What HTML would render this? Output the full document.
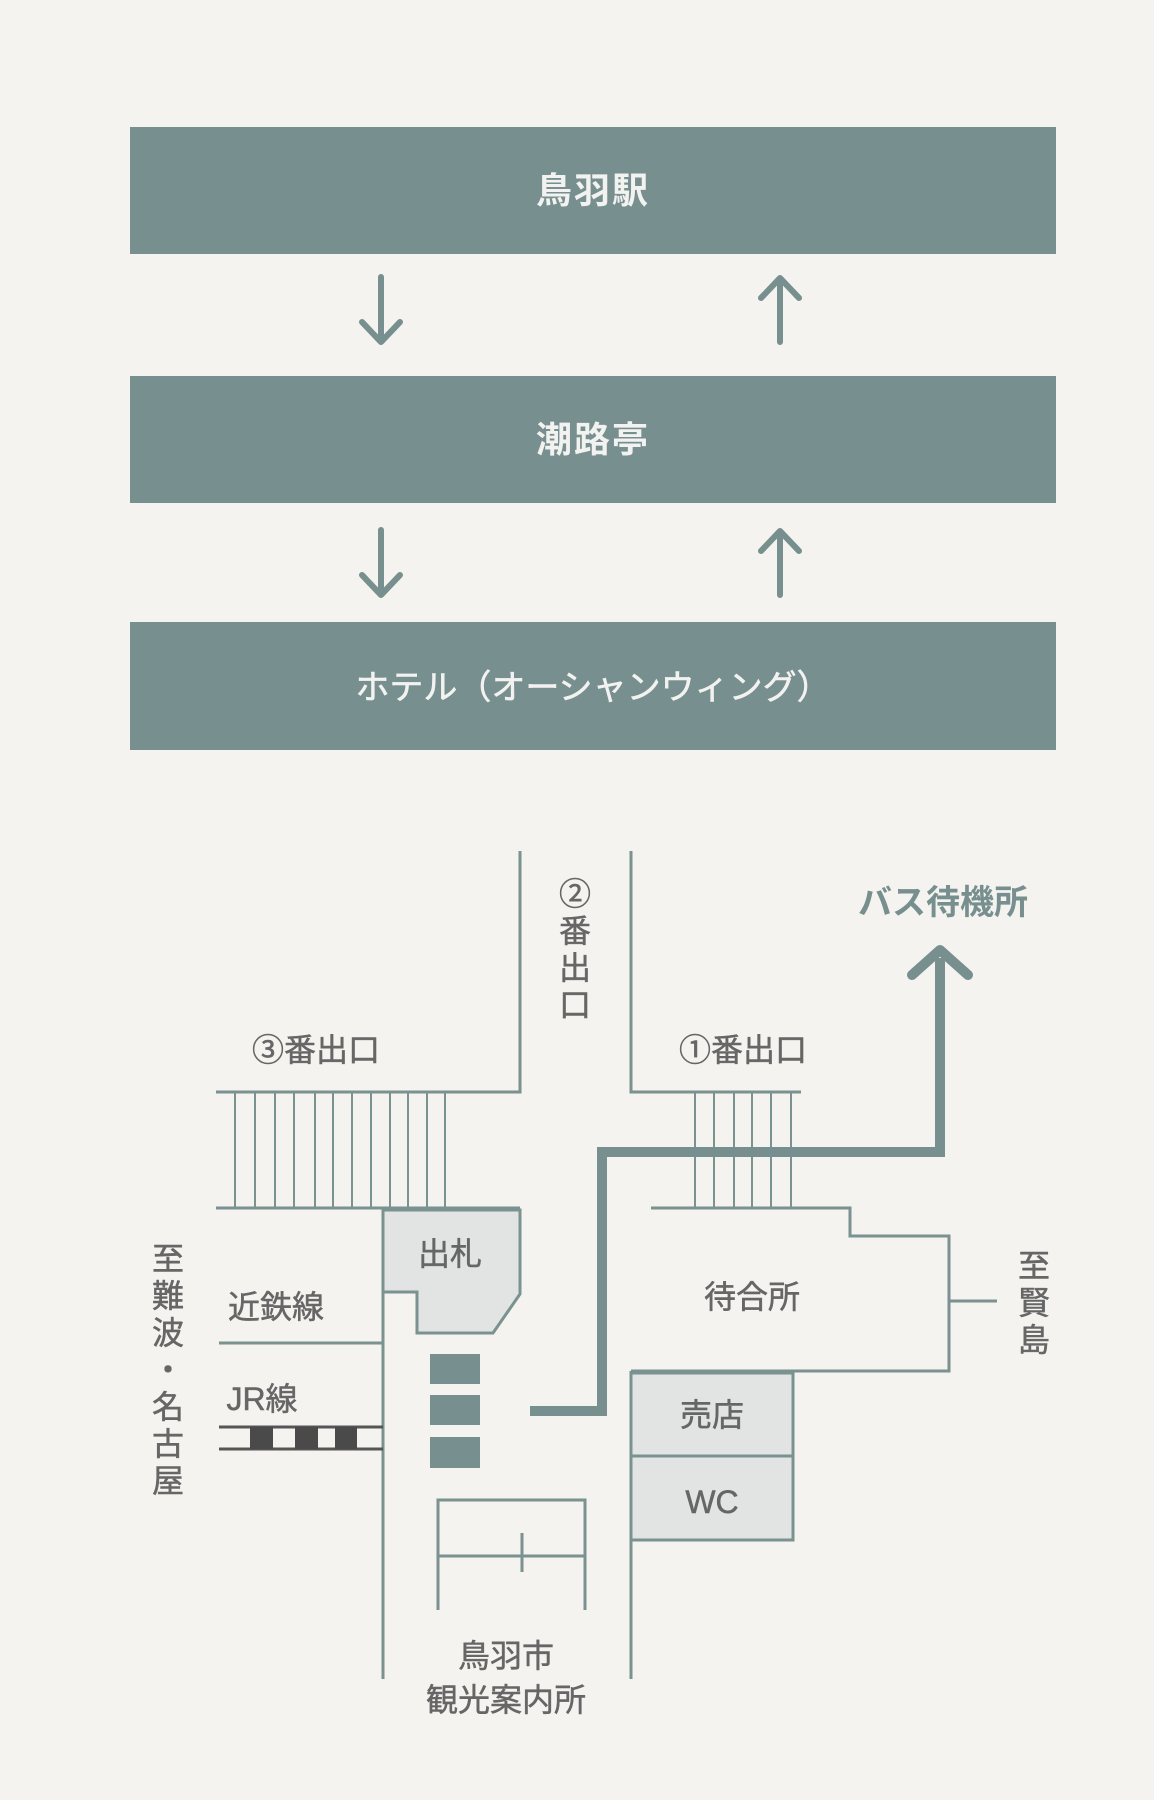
<!DOCTYPE html>
<html><head><meta charset="utf-8"><style>
html,body{margin:0;padding:0;background:#f4f3ef;}
svg{display:block}
text{font-family:"Liberation Sans","Noto Sans CJK JP",sans-serif;}
</style></head><body>
<svg width="1154" height="1800" viewBox="0 0 1154 1800" xmlns="http://www.w3.org/2000/svg">
<rect width="1154" height="1800" fill="#f4f3ef"/>
<g fill="#778f8e">
<rect x="130" y="127" width="926" height="127"/>
<rect x="130" y="376" width="926" height="127"/>
<rect x="130" y="622" width="926" height="128"/>
</g>
<g fill="#f2f2f0" font-size="36" font-weight="bold" text-anchor="middle">
<text x="593" y="203" letter-spacing="2">鳥羽駅</text>
<text x="593" y="452" letter-spacing="2">潮路亭</text>
<text x="593" y="699" font-size="34" font-weight="normal" stroke="#f2f2f0" stroke-width="0.6">ホテル（オーシャンウィング）</text>
</g>
<g stroke="#778f8e" stroke-width="6" fill="none" stroke-linecap="round" stroke-linejoin="round">
<path d="M381 277V341M362 322L381 342L400 322"/>
<path d="M780 278V342M761 298L780 278L799 298"/>
<path d="M381 530V594M362 575L381 595L400 575"/>
<path d="M780 531V595M761 551L780 531L799 551"/>
</g>
<g stroke="#7a9290" stroke-width="3" fill="none">
<path d="M520 851V1092H216"/>
<path d="M216 1208H520"/>
<path d="M631 851V1092H801"/>
<path d="M651 1208H850V1236H949V1371H631"/>
<path d="M949 1301H997"/>
<path d="M631 1371V1679"/>
<path d="M383 1210V1679"/>
<path d="M219 1343H383"/>
<path d="M438 1610V1500H585V1610M438 1556H585M522 1533V1572"/>
</g>
<g stroke="#7a9290" stroke-width="2">
<path d="M235 1092V1208M255 1092V1208M275 1092V1208M294 1092V1208M315 1092V1208M333 1092V1208M352 1092V1208M371 1092V1208M390 1092V1208M408 1092V1208M427 1092V1208M445 1092V1208"/>
<path d="M695 1092V1208M714 1092V1208M734 1092V1208M752 1092V1208M771 1092V1208M791 1092V1208"/>
</g>
<polygon points="383,1210 520,1210 520,1294 493,1333 417,1333 417,1292 383,1292" fill="#e2e4e3" stroke="#7a9290" stroke-width="3"/>
<rect x="631" y="1373" width="162" height="167" fill="#e2e4e3" stroke="#7a9290" stroke-width="3"/>
<path d="M631 1456H793" stroke="#7a9290" stroke-width="3"/>
<g fill="#778f8e">
<rect x="430" y="1354" width="50" height="30"/>
<rect x="430" y="1395" width="50" height="30"/>
<rect x="430" y="1437" width="50" height="31"/>
</g>
<g>
<path d="M219 1427H383M219 1449H383" stroke="#555" stroke-width="3"/>
<rect x="250" y="1427" width="23" height="22" fill="#4a4a4a"/>
<rect x="295" y="1427" width="23" height="22" fill="#4a4a4a"/>
<rect x="335" y="1427" width="22" height="22" fill="#4a4a4a"/>
</g>
<path d="M530 1411H602V1152H940V958" stroke="#778f8e" stroke-width="10" fill="none" stroke-linejoin="miter"/>
<path d="M912 975L940 950L968 975" stroke="#778f8e" stroke-width="10" fill="none" stroke-linecap="round" stroke-linejoin="round"/>
<g fill="#666" font-size="32" text-anchor="middle" stroke="#666" stroke-width="0.5">
<text x="316" y="1061">③番出口</text>
<text x="743" y="1061">①番出口</text>
<text x="575" y="905">②</text>
<text x="575" y="942">番</text>
<text x="575" y="979">出</text>
<text x="575" y="1016">口</text>
<text x="450" y="1265">出札</text>
<text x="276" y="1318">近鉄線</text>
<text x="262" y="1410">JR線</text>
<text x="752" y="1308">待合所</text>
<text x="712" y="1426">売店</text>
<text x="712" y="1513">WC</text>
<text x="506" y="1667">鳥羽市</text>
<text x="506" y="1711">観光案内所</text>
<text x="168" y="1270">至</text>
<text x="168" y="1307">難</text>
<text x="168" y="1344">波</text>
<text x="168" y="1381">・</text>
<text x="168" y="1418">名</text>
<text x="168" y="1455">古</text>
<text x="168" y="1492">屋</text>
<text x="1034" y="1277">至</text>
<text x="1034" y="1314">賢</text>
<text x="1034" y="1351">島</text>
</g>
<text x="943" y="914" fill="#778f8e" font-size="34" font-weight="bold" text-anchor="middle">バス待機所</text>
</svg>
</body></html>
